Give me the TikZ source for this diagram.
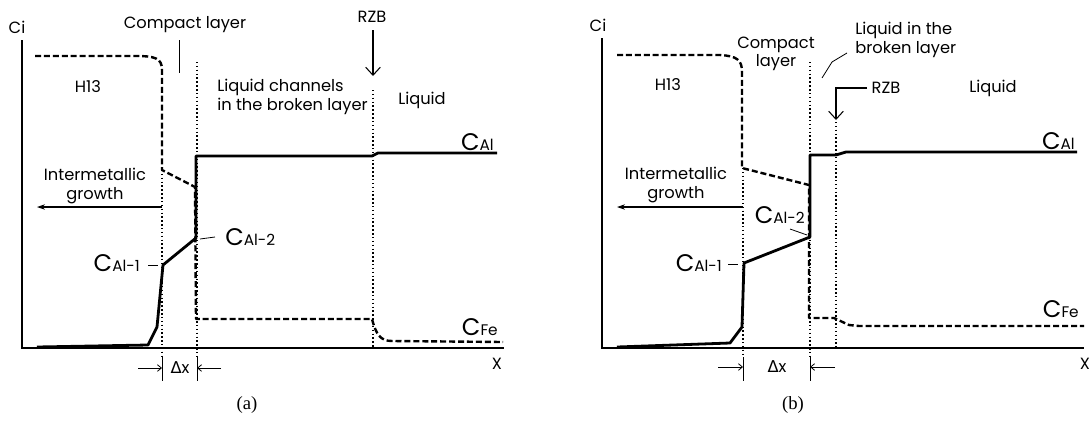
\documentclass[tikz,border=0pt]{standalone}
\usepackage{fontspec}
\setmainfont{Poppins}
\newfontfamily\capfont{Liberation Serif}
\newfontfamily\symfont{DejaVu Sans}
\usetikzlibrary{arrows.meta}

% concentration label: big C with small index
\newcommand{\conc}[1]{{\fontsize{18}{18}\selectfont C}{\fontsize{11.5}{11.5}\selectfont #1}}

\begin{document}
\begin{tikzpicture}[x=0.75pt, y=-0.75pt,
  axis/.style={line width=0.8pt},
  alcurve/.style={line width=2.1pt, line join=round},
  fecurve/.style={line width=1.8pt, dash pattern=on 4.5pt off 2.2pt, line join=round},
  guide/.style={line width=0.9pt, dash pattern=on 1.1pt off 1.8pt},
  tick/.style={line width=0.6pt},
  lbl/.style={font=\fontsize{12.2}{14}\selectfont, inner sep=0pt},
  caption/.style={font=\capfont\fontsize{14}{16}\selectfont, inner sep=0pt},
  growth/.style={line width=0.8pt, -{Stealth[length=6pt, width=4pt]}},
  zonearrow/.style={line width=0.8pt, -{Straight Barb[length=6pt, width=11pt]}},
  dxarrow/.style={line width=0.6pt, -{Straight Barb[length=3pt, width=5pt]}}]
  \useasboundingbox (0,0) rectangle (1092,422);

  % ---------- (a) ----------
  \coordinate (Oa) at (22,348);
  \coordinate (Ya) at (22,40);
  \coordinate (Xa) at (504,348);
  \draw[axis] (Ya) -- (Oa) -- (Xa);
  \node[lbl] (cia) at (17,27) {Ci};
  \node[lbl] (xa) at (497,364) {X};

  % layer boundaries
  \coordinate (Ba) at (162,357);
  \coordinate (Ca) at (197,357);
  \coordinate (Ra) at (373,348);
  \draw[guide] (162,170) -- (Ba);
  \draw[guide] (197,62) -- (Ca);
  \draw[guide] (373,90) -- (Ra);

  % Fe profile
  \draw[fecurve] (35,56) -- (135,56) .. controls (155,56) and (162,58) .. (162,70)
    -- (162,170) -- (195,187) -- (196,319) -- (372,319)
    .. controls (376,334) and (380,341) .. (392,341) -- (503,342);
  % Al profile
  \draw[alcurve] (37,347) -- (148,345) -- (157,327) -- (163,265) -- (196,238)
    -- (196,156) -- (372,156) -- (378,153) -- (497,153);

  \node[lbl] (cla) at (185,25) {Compact layer};
  \coordinate (cla1) at (179,40);
  \coordinate (cla2) at (179,73);
  \draw[tick] (cla1) -- (cla2);
  \node[lbl] (h13a) at (88,87) {H13};
  \node[lbl, anchor=west, align=left] (lca) at (217,97) {Liquid channels\\in the broken layer};
  \node[lbl] (rzba) at (372,17) {RZB};
  \coordinate (rza1) at (373,30);
  \coordinate (rza2) at (373,76);
  \draw[zonearrow] (rza1) -- (rza2);
  \node[lbl] (liqa) at (422,100) {Liquid};

  \node[lbl, align=center] (iga) at (95,186) {Intermetallic\\growth};
  \coordinate (iga1) at (162,207);
  \coordinate (iga2) at (37,207);
  \draw[growth] (iga1) -- (iga2);

  \node[inner sep=0pt, anchor=base east] (cala) at (494,150) {\conc{Al}};
  \node[inner sep=0pt, anchor=base east] (cfea) at (498,335) {\conc{Fe}};
  \node[inner sep=0pt, anchor=base east] (cal1a) at (140,271) {\conc{Al-1}};
  \coordinate (t1a) at (148,265);
  \coordinate (t1b) at (158,265);
  \draw[tick] (t1a) -- (t1b);
  \node[inner sep=0pt, anchor=base west] (cal2a) at (225,245) {\conc{Al-2}};
  \coordinate (t2a) at (200,239);
  \coordinate (t2b) at (215,237);
  \draw[tick] (t2a) -- (t2b);

  % layer thickness
  \coordinate (Ba2) at (162,381);
  \coordinate (Ca2) at (197,381);
  \draw[tick] (Ba) -- (Ba2);
  \draw[tick] (Ca) -- (Ca2);
  \node[lbl] (dxa) at (180,368) {{\symfont Δ}x};
  \coordinate (dxa1) at (138,368);
  \coordinate (dxa2) at (162,368);
  \coordinate (dxa3) at (221,368);
  \coordinate (dxa4) at (197,368);
  \draw[dxarrow] (dxa1) -- (dxa2);
  \draw[dxarrow] (dxa3) -- (dxa4);
  \node[caption] (capa) at (247,405) {(a)};

  % ---------- (b) ----------
  \coordinate (Ob) at (602,348);
  \coordinate (Yb) at (602,38);
  \coordinate (Xb) at (1084,348);
  \draw[axis] (Yb) -- (Ob) -- (Xb);
  \node[lbl] (cib) at (598,25) {Ci};
  \node[lbl] (xb) at (1085,364) {X};

  \coordinate (Bb) at (743,357);
  \coordinate (Cb) at (810,357);
  \coordinate (Rb) at (836,348);
  \draw[guide] (743,168) -- (Bb);
  \draw[guide] (810,62) -- (Cb);
  \draw[guide] (836,122) -- (Rb);

  % Fe profile
  \draw[fecurve] (617,55) -- (720,55) .. controls (737,56) and (742,60) .. (742,72)
    -- (742,168) -- (809,185) -- (809,318) -- (834,318) -- (849,325) -- (859,326) -- (1084,326);
  % Al profile
  \draw[alcurve] (617,347) -- (730,343) -- (742,327) -- (744,263) -- (810,237)
    -- (810,155) -- (836,155) -- (846,152) -- (1077,152);

  \node[lbl, align=center] (clb) at (776,54) {Compact\\layer};
  \node[lbl] (h13b) at (668,85) {H13};
  \node[lbl, anchor=west, align=left] (lbb) at (855,40) {Liquid in the\\broken layer};
  \coordinate (lb1) at (822,78);
  \coordinate (lb2) at (847,53);
  \draw[tick] (lb1) -- (832,62) -- (lb2);
  \node[lbl] (rzbb) at (886,88) {RZB};
  \coordinate (rzb1) at (867,88);
  \coordinate (rzb2) at (836,120);
  \draw[zonearrow] (rzb1) -| (rzb2);
  \node[lbl] (liqb) at (993,88) {Liquid};

  \node[lbl, align=center] (igb) at (676,185) {Intermetallic\\growth};
  \coordinate (igb1) at (743,207);
  \coordinate (igb2) at (617,207);
  \draw[growth] (igb1) -- (igb2);

  \node[inner sep=0pt, anchor=base east] (calb) at (1075,149) {\conc{Al}};
  \node[inner sep=0pt, anchor=base east] (cfeb) at (1079,317) {\conc{Fe}};
  \node[inner sep=0pt, anchor=base east] (cal1b) at (722,271) {\conc{Al-1}};
  \coordinate (t1c) at (728,264);
  \coordinate (t1d) at (738,264);
  \draw[tick] (t1c) -- (t1d);
  \node[inner sep=0pt, anchor=base east] (cal2b) at (805,223) {\conc{Al-2}};
  \coordinate (t2c) at (790,229);
  \coordinate (t2d) at (807,235);
  \draw[tick] (t2c) -- (t2d);

  % layer thickness
  \coordinate (Bb2) at (743,381);
  \coordinate (Cb2) at (810,381);
  \draw[tick] (Bb) -- (Bb2);
  \draw[tick] (Cb) -- (Cb2);
  \node[lbl] (dxb) at (777,367) {{\symfont Δ}x};
  \coordinate (dxb1) at (718,367);
  \coordinate (dxb2) at (743,367);
  \coordinate (dxb3) at (835,367);
  \coordinate (dxb4) at (810,367);
  \draw[dxarrow] (dxb1) -- (dxb2);
  \draw[dxarrow] (dxb3) -- (dxb4);
  \node[caption] (capb) at (793,405) {(b)};
\end{tikzpicture}
\end{document}
